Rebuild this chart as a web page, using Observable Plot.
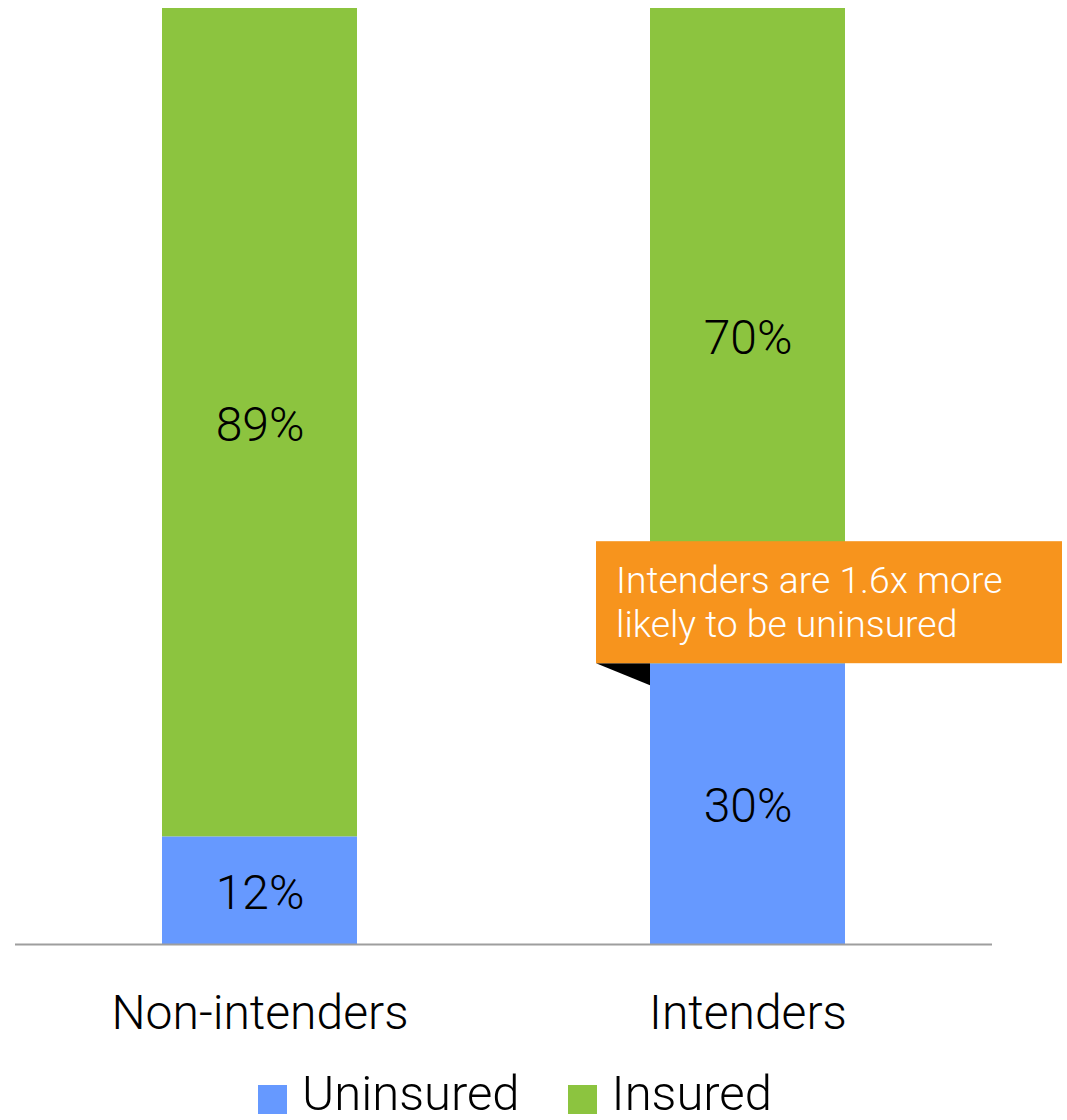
<!DOCTYPE html>
<html><head><meta charset="utf-8">
<script src="https://cdn.jsdelivr.net/npm/d3@7"></script>
<script src="https://cdn.jsdelivr.net/npm/@observablehq/plot@0.6"></script>
<style>
body{margin:0;background:#fff;font-family:Roboto, sans-serif;font-weight:300;overflow:hidden;}
#legend{width:1030px;display:flex;justify-content:center;align-items:center;font-size:49px;font-weight:300;color:#000;line-height:50px;margin-top:19px;}
#legend .item{display:flex;align-items:center;margin:0 24px;}
#legend .sw{width:29px;height:29px;margin-right:15px;margin-top:10px;}
</style></head><body><div id="chart"></div><script>
const groups = ["Non-intenders", "Intenders"];
const series = ["Uninsured", "Insured"];
const uninsured = [11.5, 30];
const insured = [88.5, 70];
const colors = ["#6699ff", "#8cc43f"];
const noteLines = ["Intenders are 1.6x more", "likely to be uninsured"];
const noteTarget = "Intenders";

const data = [];
groups.forEach((g, i) => {
  data.push({group: g, series: series[0], value: uninsured[i]});
  data.push({group: g, series: series[1], value: insured[i]});
});

function callout(index, scales, values, dims, context) {
  const gi = groups.indexOf(noteTarget);
  const x0 = scales.x(noteTarget);
  const yb = scales.y(uninsured[gi]);
  const left = x0 - 54, right = x0 + 412, top = yb - 122;
  const g = d3.create("svg:g");
  g.append("path").attr("d", `M${left},${yb}L${x0},${yb}L${x0},${yb + 22}Z`).attr("fill", "#000");
  g.append("rect").attr("x", left).attr("y", top).attr("width", right - left).attr("height", yb - top).attr("fill", "#f7941d");
  const t = g.append("text").attr("fill", "#fff").attr("font-size", 37.3).attr("font-weight", 300)
    .attr("text-anchor", "start").attr("font-family", "Roboto, sans-serif");
  noteLines.forEach((line, i) => {
    t.append("tspan").attr("x", left + 20).attr("y", top + 52 + i * 44).text(line);
  });
  return g.node();
}

const chart = Plot.plot({
  width: 1067,
  height: 1050,
  marginTop: 8,
  marginLeft: 15,
  marginRight: 75,
  marginBottom: 106,
  style: {fontFamily: "Roboto, sans-serif", fontWeight: 300, overflow: "visible"},
  x: {domain: groups, paddingInner: 0.6, paddingOuter: 0.3, label: null},
  y: {domain: [0, 100], axis: null},
  color: {domain: series, range: colors},
  marks: [
    Plot.barY(data, {x: "group", y: "value", fill: "series"}),
    Plot.text(data, Plot.stackY({x: "group", y: "value", text: d => Math.round(d.value) + "%", fontSize: 48, fill: "#000", fontWeight: 300, dy: 3})),
    Plot.ruleY([0], {stroke: "#9e9e9e", strokeWidth: 2}),
    Plot.axisX({tickSize: 0, tickPadding: 50, fontSize: 48, fontWeight: 300, label: null, fill: "#000"}),
    callout
  ]
});
document.getElementById("chart").appendChild(chart);

const legend = document.createElement("div");
legend.id = "legend";
series.forEach((s, i) => {
  const item = document.createElement("div");
  item.className = "item";
  const sw = document.createElement("span");
  sw.className = "sw";
  sw.style.background = colors[i];
  const lab = document.createElement("span");
  lab.textContent = s;
  item.appendChild(sw); item.appendChild(lab);
  legend.appendChild(item);
});
document.body.appendChild(legend);
</script></body></html>
